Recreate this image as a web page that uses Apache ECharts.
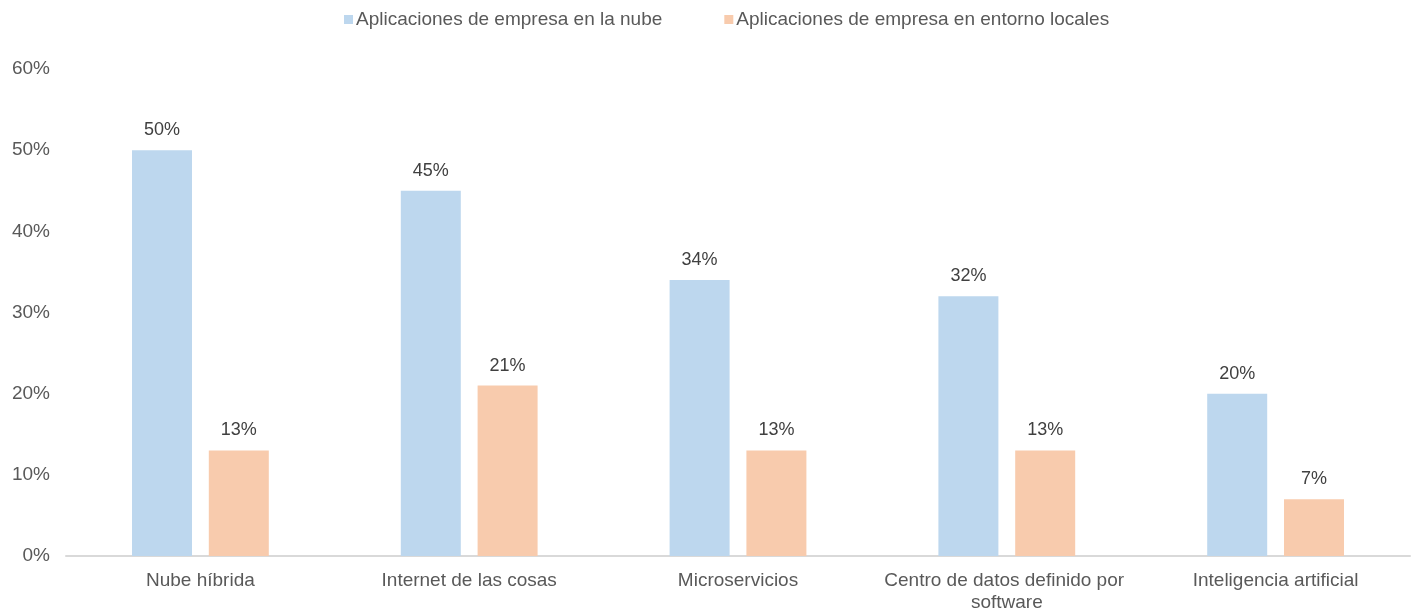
<!DOCTYPE html>
<html>
<head>
<meta charset="utf-8">
<script src="https://cdn.jsdelivr.net/npm/echarts@6/dist/echarts.min.js"></script>
<style>
  html, body { margin: 0; padding: 0; background: #fff; }
  #main { width: 1420px; height: 614px; }
</style>
</head>
<body>
<div id="main"></div>
<script>
var categories = ['Nube híbrida', 'Internet de las cosas', 'Microservicios', 'Centro de datos definido por software', 'Inteligencia artificial'];
var nube = [50, 45, 34, 32, 20];
var locales = [13, 21, 13, 13, 7];
var seriesNames = ['Aplicaciones de empresa en la nube', 'Aplicaciones de empresa en entorno locales'];

var chart = echarts.init(document.getElementById('main'));
var font = 'Liberation Sans, Arial, sans-serif';
var fs = 19;

var labelStyle = {
    show: true,
    position: 'top',
    distance: 11,
    color: '#404040',
    fontSize: 18,
    fontFamily: font,
    formatter: '{c}%'
};

var option = {
    animation: false,
    legend: {
        top: 5,
        left: 339,
        itemWidth: 9,
        itemHeight: 9,
        itemGap: 62,
        icon: 'rect',
        textStyle: { color: '#595959', fontSize: fs, fontFamily: font, padding: [0, 0, 0, -2] },
        data: seriesNames
    },
    grid: { left: 66, right: 10, top: 69, bottom: 58 },
    xAxis: {
        type: 'category',
        data: categories,
        axisLine: { lineStyle: { color: '#d9d9d9', width: 2 } },
        axisTick: { show: false },
        axisLabel: {
            color: '#595959', fontSize: fs, fontFamily: font, margin: 14,
            width: 255, overflow: 'break', lineHeight: 22,
            interval: 0, hideOverlap: false
        }
    },
    yAxis: {
        type: 'value',
        min: 0,
        max: 60,
        interval: 10,
        splitLine: { show: false },
        axisLine: { show: false },
        axisTick: { show: false },
        axisLabel: { color: '#595959', fontSize: fs, fontFamily: font, margin: 16, formatter: '{value}%' }
    },
    series: [
        {
            name: seriesNames[0],
            type: 'bar',
            data: nube,
            barWidth: 60,
            barGap: '28%',
            itemStyle: { color: '#bdd7ee' },
            label: labelStyle
        },
        {
            name: seriesNames[1],
            type: 'bar',
            data: locales,
            barWidth: 60,
            barGap: '28%',
            itemStyle: { color: '#f8cbad' },
            label: labelStyle
        }
    ]
};

chart.setOption(option);
</script>
</body>
</html>
